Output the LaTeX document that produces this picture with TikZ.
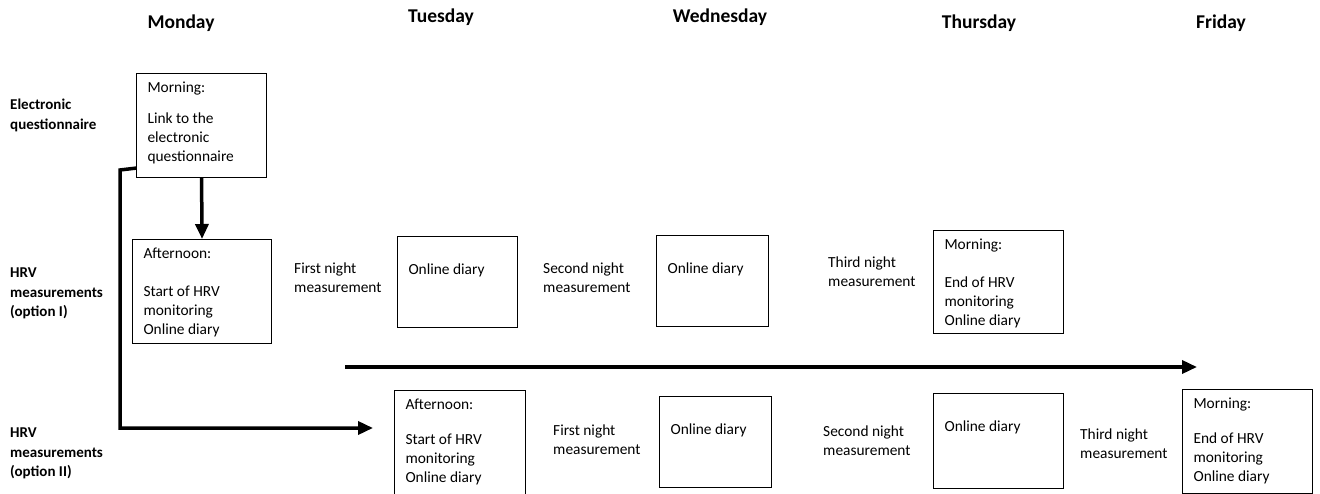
\documentclass[tikz,border=0pt]{standalone}
\usepackage{fontspec}
\setmainfont{Carlito}
\usetikzlibrary{arrows.meta,calc}
\newcommand\bx[3]{\parbox[t][#2pt][t]{#1pt}{\raggedright\strut #3}}
\tikzset{
  box/.style={draw, line width=1.1pt, anchor=north west, inner xsep=11pt, inner ysep=6pt, font=\fontsize{15.4}{19}\selectfont},
  lbl/.style={anchor=north west, inner sep=0pt, align=left, font=\fontsize{15.4}{19}\selectfont},
  side/.style={anchor=north west, inner sep=0pt, align=left, font=\bfseries\fontsize{15}{19.5}\selectfont},
  day/.style={anchor=base, inner sep=0pt, font=\bfseries\fontsize{19.5}{23}\selectfont},
  conn/.style={line width=3.5pt, line join=miter, -{Triangle[length=15pt,width=13pt]}},
}
\begin{document}
\begin{tikzpicture}[x=1pt,y=-1pt]
\useasboundingbox (0,0) rectangle (1320,494);
\clip (0,0) rectangle (1320,494);
% days
\node[day] (mon) at (181,29) {Monday};
\node[day] (tue) at (441,23) {Tuesday};
\node[day] (wed) at (720,23) {Wednesday};
\node[day] (thu) at (979,29) {Thursday};
\node[day] (fri) at (1221,29) {Friday};
% side labels
\node[side] (s1) at (10,96) {\strut Electronic\\questionnaire};
\node[side] (s2) at (10,264) {\strut HRV\\measurements\\(option I)};
\node[side] (s3) at (10,424) {\strut HRV\\measurements\\(option II)};
% boxes option I
\node[box] (q) at (136,73) {\bx{108}{92}{Morning:\\[12pt]Link to the\\electronic\\questionnaire}};
\node[box] (a1) at (132,239) {\bx{117}{92}{Afternoon:\\[19pt]Start of HRV\\monitoring\\Online diary}};
\node[box] (t1) at (397,236) {\bx{98}{79}{\\Online diary}};
\node[box] (w1) at (656,235) {\bx{90}{79}{\\Online diary}};
\node[box] (th1) at (933,230) {\bx{108}{91}{Morning:\\[19pt]End of HRV\\monitoring\\Online diary}};
% boxes option II
\node[box] (t2) at (394,390) {\bx{109}{96}{Afternoon:\\[16pt]Start of HRV\\monitoring\\Online diary}};
\node[box] (w2) at (659,396) {\bx{90}{79}{\\Online diary}};
\node[box] (th2) at (933,393) {\bx{108}{83}{\\Online diary}};
\node[box] (f2) at (1182,389) {\bx{108}{92}{Morning:\\[16pt]End of HRV\\monitoring\\Online diary}};
% night labels
\node[lbl] (n11) at (294,260) {\strut First night\\measurement};
\node[lbl] (n12) at (543,260) {\strut Second night\\measurement};
\node[lbl] (n13) at (828,254) {\strut Third night\\measurement};
\node[lbl] (n21) at (553,422) {\strut First night\\measurement};
\node[lbl] (n22) at (823,423) {\strut Second night\\measurement};
\node[lbl] (n23) at (1080,426) {\strut Third night\\measurement};
% connectors
\draw[conn] (q.south) -- (a1.north);
\coordinate (c1) at (120,170);
\coordinate (c2) at (120,428);
\coordinate (c3) at (373,428);
\draw[conn] ($(q.south west)+(0,-10)$) -- (c1) -- (c2) -- (c3);
\coordinate (ls) at (345,367);
\coordinate (le) at (1197,367);
\draw[conn] (ls) -- (le);
\end{tikzpicture}
\end{document}
